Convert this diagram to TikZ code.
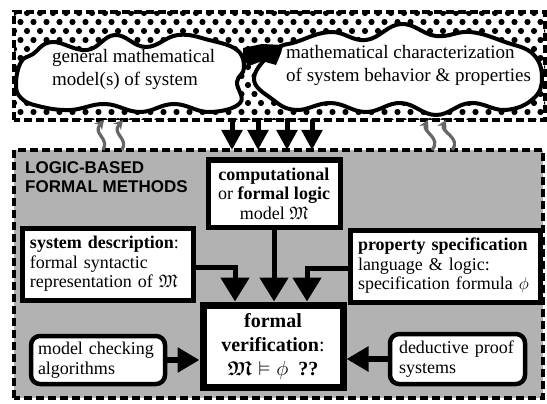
\documentclass[tikz,border=0pt]{standalone}
\usepackage{amsmath,amssymb}
\usepackage{fontspec}
\setmainfont{Liberation Serif}
\newfontfamily\lbfont{Liberation Sans}
\usetikzlibrary{arrows.meta,calc}
\begin{document}
\begin{tikzpicture}[x=1pt,y=-1pt,
  dashborder/.style={draw=black, line width=4pt, dash pattern=on 8pt off 4pt},
  region/.style={inner sep=0pt, outer sep=0pt},
  box/.style={draw=black, line width=5pt, fill=white, inner sep=0pt, font=\fontsize{18}{19.5}\selectfont},
  rbox/.style={box, rounded corners=9pt, line width=4.5pt},
  fvbox/.style={box, line width=7pt, font=\fontsize{20}{24}\selectfont},
  cloud/.style={draw=black, line width=4pt, fill=white},
  cloudtext/.style={inner sep=0pt, anchor=west, align=left, font=\fontsize{19}{23}\selectfont},
  conn/.style={line width=5pt, -{Triangle[width=28pt,length=24pt]}},
  side/.style={line width=6pt, -{Triangle[width=24pt,length=22pt]}},
  down/.style={line width=5pt, -{Triangle[width=20pt,length=20pt]}},
  squig/.style={draw=black!60, line width=3.2pt, -{Stealth[length=9pt,width=10pt]}},
  lbl/.style={inner sep=0pt, anchor=west, align=left, font=\lbfont\bfseries\fontsize{17}{19}\selectfont}
]
\useasboundingbox (0,0) rectangle (547,404);
\fill[white] (0,0) rectangle (547,404);

% lower region: logic-based formal methods
\node[region, minimum width=529pt, minimum height=248pt, fill=black!30] (fm) at (278.5,274) {};
\draw[dashborder] (fm.south west) rectangle (fm.north east);

% upper band with dots
\node[region, minimum width=531pt, minimum height=108pt] (band) at (279.5,66) {};
\begin{scope}
  \clip (band.south west) rectangle (band.north east);
  \foreach \r in {0,...,12} {
    \foreach \c in {0,...,42} {
      \fill ({14+\c*13+6.5*mod(\r,2)},{13+\r*9}) circle[radius=3.1pt];
    }
  }
\end{scope}
\draw[dashborder] (band.south west) rectangle (band.north east);

% clouds
\draw[cloud] plot[smooth cycle, tension=0.7] coordinates {(16,84) (21,62) (33,54) (52,42) (87,50) (115,35) (146,47) (178,35) (209,40) (237,50) (244,68) (237,82) (240,103) (209,112) (174,104) (140,112) (105,104) (70,110) (38,106) (21,98)};
\draw[cloud] plot[smooth cycle, tension=0.7] coordinates {(254,78) (275,50) (296,42) (331,32) (366,40) (401,24) (436,36) (470,32) (505,42) (533,54) (542,78) (533,99) (505,110) (470,103) (436,115) (401,103) (366,112) (331,103) (296,110) (272,99)};
\fill[black] (243,48) -- (262,44) -- (283,45) -- (281,53) -- (276,65) -- (262,61) -- (249,66) -- (243,60) -- cycle;
\node[cloudtext] (gm) at (52,69) {general mathematical\\model(s) of system};
\node[cloudtext] (ch) at (286,65) {mathematical characterization\\of system behavior \& properties};

% label
\node[lbl] (lbl) at (25,177) {LOGIC-BASED\\FORMAL METHODS};

% boxes
\node[box, minimum width=132pt, minimum height=67pt, align=center] (comp) at (274,193.5)
  {\textbf{computational}\\or \textbf{formal logic}\\model $\mathfrak{M}$};
\node[box, minimum width=171pt, minimum height=72pt, text width=155pt, align=left] (sd) at (107.5,264)
  {\textbf{system description}:\\formal syntactic\\representation of $\mathfrak{M}$};
\node[box, minimum width=190pt, minimum height=72pt, text width=174pt, align=left] (ps) at (445,266)
  {\textbf{property specification}\\language \& logic:\\specification formula $\phi$};
\node[fvbox, minimum width=140pt, minimum height=82pt, align=center] (fv) at (273,346)
  {\textbf{formal}\\\textbf{verification}:\\$\boldsymbol{\mathfrak{M}}\vDash\phi$\ \ \textbf{??}};
\node[rbox, minimum width=134pt, minimum height=48pt, text width=120pt, align=left] (mc) at (98,360)
  {model checking\\algorithms};
\node[rbox, minimum width=135pt, minimum height=50pt, text width=117pt, align=left] (dp) at (457.5,359)
  {deductive proof\\systems};

% connectors into formal verification
\draw[conn] ([yshift=-3pt]sd.east) -| ([xshift=-38pt]fv.north);
\draw[conn] (comp.south) -- (comp.south |- fv.north);
\draw[conn] ([yshift=-2pt]ps.west) -| ([xshift=34pt]fv.north);
\draw[side] (mc.east) -- (mc.east -| fv.west);
\draw[side] (dp.west) -- (dp.west -| fv.east);

% arrows from band to lower region
\foreach \x in {232,258,287,312} {
  \draw[down] (\x,0 |- band.south) -- (\x,0 |- fm.north);
}

% squiggly arrows up from lower region
\draw[squig] (103,0 |- fm.north) .. controls (110,138) and (92,134) .. (104,0 |- band.south);
\draw[squig] (122,0 |- fm.north) .. controls (129,138) and (111,134) .. (123,0 |- band.south);
\draw[squig] (432,0 |- fm.north) .. controls (442,138) and (422,132) .. (428,0 |- band.south);
\draw[squig] (452,0 |- fm.north) .. controls (462,138) and (440,132) .. (446,0 |- band.south);
\end{tikzpicture}
\end{document}
